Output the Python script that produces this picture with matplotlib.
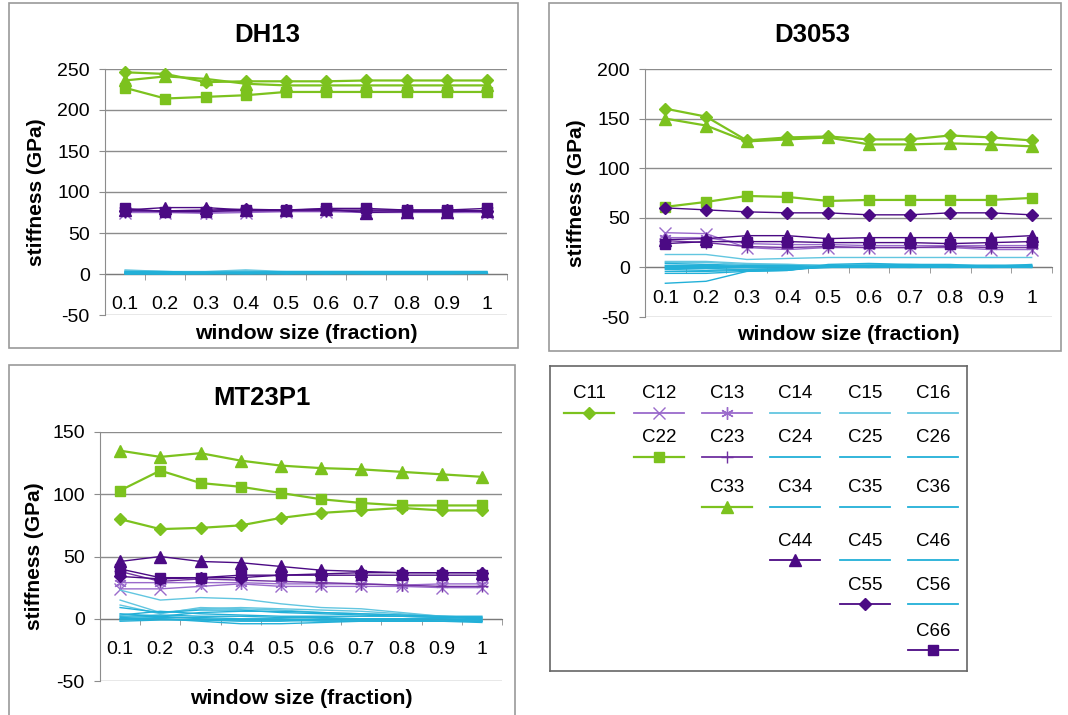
import numpy as np
import matplotlib.pyplot as plt
from matplotlib.patches import Rectangle

plt.rcParams['font.family'] = ['Liberation Sans', 'DejaVu Sans']
plt.rcParams['axes.unicode_minus'] = False

W, H = 1068, 715

window = ['0.1', '0.2', '0.3', '0.4', '0.5', '0.6', '0.7', '0.8', '0.9', '1']

# --- DH13 ---
dh13_c11 = [246, 244, 234, 235, 235, 235, 236, 236, 236, 236]
dh13_c22 = [227, 214, 216, 218, 222, 222, 222, 222, 222, 222]
dh13_c33 = [236, 241, 238, 232, 230, 230, 230, 230, 230, 230]
dh13_c12 = [75, 75, 74, 75, 76, 76, 75, 75, 75, 75]
dh13_c13 = [76, 76, 75, 76, 77, 77, 76, 76, 76, 76]
dh13_c23 = [78, 77, 77, 77, 77, 77, 77, 77, 77, 76]
dh13_c44 = [78, 81, 81, 78, 78, 79, 75, 76, 76, 77]
dh13_c55 = [77, 77, 78, 79, 78, 78, 78, 78, 78, 77]
dh13_c66 = [80, 76, 76, 78, 78, 80, 80, 78, 78, 80]
dh13_off = [
    [5, 3, 3, 5, 3, 3, 3, 3, 3, 3],
    [4, 3, 2, 4, 2, 2, 2, 2, 2, 2],
    [3, 2, 2, 3, 2, 2, 2, 2, 2, 2],
    [3, 3, 2, 2, 3, 3, 3, 3, 3, 3],
    [2, 2, 2, 2, 2, 1, 2, 2, 2, 2],
    [2, 1, 2, 2, 2, 2, 1, 1, 1, 1],
    [1, 1, 1, 1, 1, 1, 1, 1, 1, 1],
    [1, 2, 1, 1, 1, 1, 2, 2, 2, 1],
    [1, 1, 2, 1, 1, 1, 1, 1, 1, 1],
    [0, 1, 1, 1, 1, 0, 1, 1, 1, 1],
    [0, 0, 1, 0, 1, 1, 1, 1, 1, 1],
    [1, 0, 0, 1, 0, 1, 0, 0, 0, 1],
]

# --- D3053 ---
d3053_c11 = [160, 152, 128, 131, 132, 129, 129, 133, 131, 128]
d3053_c22 = [61, 66, 72, 71, 67, 68, 68, 68, 68, 70]
d3053_c33 = [150, 143, 127, 129, 131, 124, 124, 125, 124, 122]
d3053_c12 = [35, 34, 20, 18, 20, 20, 20, 20, 18, 18]
d3053_c13 = [30, 30, 24, 23, 23, 22, 22, 22, 22, 22]
d3053_c23 = [27, 25, 21, 20, 21, 20, 20, 21, 20, 20]
d3053_c44 = [28, 29, 32, 32, 29, 30, 30, 30, 30, 32]
d3053_c55 = [60, 58, 56, 55, 55, 53, 53, 55, 55, 53]
d3053_c66 = [24, 26, 26, 26, 25, 25, 25, 24, 25, 26]
d3053_off = [
    [13, 13, 8, 9, 10, 10, 10, 10, 10, 10],
    [6, 6, 4, 3, 2, 3, 2, 2, 2, 2],
    [5, 5, 3, 3, 2, 2, 2, 2, 2, 2],
    [4, 3, 2, 2, 1, 1, 1, 1, 1, 1],
    [2, 2, 1, 1, 0, 1, 0, 0, 1, 0],
    [1, 1, 1, 0, 0, 0, 0, 0, 0, 1],
    [0, 0, 0, -1, 0, 0, 1, 1, 0, 0],
    [-1, -1, -2, -1, 1, 2, 2, 1, 1, 1],
    [-2, -3, -2, -2, 0, 1, 1, 0, 0, 0],
    [-4, -4, -3, -3, 2, 2, 3, 2, 2, 2],
    [-6, -6, -4, -3, 1, 0, 0, 1, 1, 1],
    [-16, -14, -4, -3, 3, 4, 3, 3, 1, 3],
]

# --- MT23P1 ---
mt23_c11 = [80, 72, 73, 75, 81, 85, 87, 89, 87, 87]
mt23_c22 = [103, 119, 109, 106, 101, 96, 93, 91, 91, 91]
mt23_c33 = [135, 130, 133, 127, 123, 121, 120, 118, 116, 114]
mt23_c12 = [24, 24, 26, 28, 26, 26, 26, 26, 25, 25]
mt23_c13 = [29, 29, 29, 29, 28, 28, 28, 27, 28, 28]
mt23_c23 = [38, 30, 32, 31, 30, 29, 28, 27, 26, 26]
mt23_c44 = [46, 50, 46, 45, 42, 39, 38, 37, 37, 37]
mt23_c55 = [34, 32, 33, 33, 35, 36, 37, 37, 37, 37]
mt23_c66 = [40, 33, 33, 35, 35, 35, 35, 35, 35, 35]
mt23_off = [
    [23, 15, 17, 16, 12, 9, 8, 5, 2, 0],
    [15, 5, 8, 9, 8, 7, 6, 4, 2, 1],
    [11, 4, 9, 8, 7, 5, 4, 3, 2, 1],
    [9, 5, 7, 7, 5, 4, 3, 2, 1, 0],
    [4, 2, 5, 6, 6, 5, 4, 3, 2, 2],
    [3, 6, 4, 3, 2, 2, 2, 2, 1, 1],
    [2, 3, 2, 2, 1, 1, 0, 0, 0, -1],
    [1, 2, 0, -1, -1, 0, 0, 0, 0, -1],
    [0, 1, 1, 0, 0, -1, -1, -1, -2, -2],
    [0, 0, -2, -4, -4, -3, -2, -2, -2, -2],
    [-1, 0, -1, -2, -2, -1, -1, -1, -1, -2],
    [-2, -1, -1, -1, -1, -2, -2, -2, -2, -3],
]

off_names = ['C14', 'C15', 'C16', 'C24', 'C25', 'C26',
             'C34', 'C35', 'C36', 'C45', 'C46', 'C56']

GREEN = '#7cc21e'
LILAC = '#9a6acb'
PURPLE = '#7030a0'
INDIGO = '#4b0a84'
CYAN = '#22b0d8'
CYAN_LT = '#62c6e0'
GRID = '#8c8c8c'

# color, marker, line width, marker size
styles = {
    'C11': (GREEN, 'D', 1.6, 6.5),
    'C12': (LILAC, 'x', 1.0, 8),
    'C13': (LILAC, (6, 2, 0), 1.0, 9),
    'C22': (GREEN, 's', 1.6, 6.5),
    'C23': (PURPLE, '+', 1.0, 9),
    'C33': (GREEN, '^', 1.6, 8),
    'C44': (INDIGO, '^', 1.0, 8),
    'C55': (INDIGO, 'D', 1.0, 6),
    'C66': (INDIGO, 's', 1.0, 6.5),
}
for n in off_names:
    styles[n] = (CYAN_LT if n in ('C14', 'C15', 'C16') else CYAN, None, 1.0, 0)

order = ['C11', 'C12', 'C13', 'C14', 'C15', 'C16', 'C22', 'C23', 'C24',
         'C25', 'C26', 'C33', 'C34', 'C35', 'C36', 'C44', 'C45', 'C46',
         'C55', 'C56', 'C66']


def px_axes(x0, y0, x1, y1):
    return fig.add_axes([x0 / W, 1 - y1 / H, (x1 - x0) / W, (y1 - y0) / H])


def frame(x0, y0, x1, y1, ec='#999999'):
    fig.add_artist(Rectangle((x0 / W, 1 - y1 / H), (x1 - x0) / W, (y1 - y0) / H,
                             transform=fig.transFigure, fill=False, ec=ec, lw=1.2))


def draw_panel(ax, data, ytop):
    x = np.arange(1, len(window) + 1)
    for name in order:
        color, marker, lw, ms = styles[name]
        ax.plot(x, data[name], color=color, lw=lw, marker=marker, ms=ms,
                mew=1.0, mec=color, mfc=color, zorder=3, clip_on=False)
    ax.set_xlim(0.5, 10.5)
    ax.set_ylim(-50, ytop)
    ax.set_yticks(np.arange(-50, ytop + 1, 50))
    ax.yaxis.grid(True, color=GRID, lw=1.0)
    ax.set_axisbelow(True)
    for s in ('top', 'right'):
        ax.spines[s].set_visible(False)
    ax.spines['left'].set_color(GRID)
    ax.spines['bottom'].set_position(('data', 0))
    ax.spines['bottom'].set_color('#7a7a7a')
    ax.spines['bottom'].set_zorder(2)
    ax.set_xticks(x)
    ax.set_xticklabels(window)
    ax.set_xticks(np.arange(0.5, 11), minor=True)
    ax.tick_params(axis='x', which='major', length=0, pad=16, labelsize=14)
    ax.tick_params(axis='x', which='minor', length=4, color=GRID)
    ax.tick_params(axis='y', length=4, color=GRID, pad=7, labelsize=14)


def panel_data(c11, c12, c13, c22, c23, c33, c44, c55, c66, off):
    d = {'C11': c11, 'C12': c12, 'C13': c13, 'C22': c22, 'C23': c23,
         'C33': c33, 'C44': c44, 'C55': c55, 'C66': c66}
    for n, v in zip(off_names, off):
        d[n] = v
    return d


fig = plt.figure(figsize=(W / 100, H / 100), dpi=100)

panels = [
    ('DH13', (105, 69, 507, 315), 250, (9, 3, 518, 348), (267, 35), 37,
     panel_data(dh13_c11, dh13_c12, dh13_c13, dh13_c22, dh13_c23, dh13_c33,
                dh13_c44, dh13_c55, dh13_c66, dh13_off)),
    ('D3053', (645, 69, 1052, 317), 200, (549, 3, 1061, 351), (812, 35), 577,
     panel_data(d3053_c11, d3053_c12, d3053_c13, d3053_c22, d3053_c23,
                d3053_c33, d3053_c44, d3053_c55, d3053_c66, d3053_off)),
    ('MT23P1', (100, 432, 502, 681), 150, (9, 365, 515, 720), (262, 398), 35,
     panel_data(mt23_c11, mt23_c12, mt23_c13, mt23_c22, mt23_c23, mt23_c33,
                mt23_c44, mt23_c55, mt23_c66, mt23_off)),
]

for title, box, ytop, fr, tpos, ylab_x, data in panels:
    frame(*fr)
    ax = px_axes(*box)
    draw_panel(ax, data, ytop)
    x0, y0, x1, y1 = box
    fig.text(tpos[0] / W, 1 - tpos[1] / H, title, ha='center', va='center',
             fontsize=18.5, fontweight='bold')
    fig.text(ylab_x / W, 1 - (y0 + y1) / 2 / H, 'stiffness (GPa)', rotation=90,
             ha='center', va='center', fontsize=15, fontweight='bold')
    fig.text((x0 + x1) / 2 / W, 1 - (y1 + 18) / H, 'window size (fraction)',
             ha='center', va='center', fontsize=15.3, fontweight='bold')

# legend laid out as the upper triangle of the stiffness matrix
leg = px_axes(550, 366, 967, 671)
leg.set_xlim(550, 967)
leg.set_ylim(671, 366)
leg.set_xticks([])
leg.set_yticks([])
for s in leg.spines.values():
    s.set_color('#666666')
    s.set_linewidth(1.2)

col_x = [589, 659, 727, 795, 865, 933]
text_y = [394, 438, 488, 542, 586, 632]
line_y = [413, 457, 507, 560, 604, 650]
for name in order:
    i, j = int(name[1]) - 1, int(name[2]) - 1
    cx, ty, ly = col_x[j], text_y[i], line_y[i]
    color, marker, lw, ms = styles[name]
    leg.text(cx, ty, name, ha='center', va='center', fontsize=13.5)
    leg.plot([cx - 25, cx + 25], [ly, ly], color=color, lw=max(lw, 1.3))
    if marker is not None:
        leg.plot([cx], [ly], color=color, marker=marker, ms=ms, mew=1.0,
                 mec=color, mfc=color)

fig.savefig('out.png', dpi=100)
